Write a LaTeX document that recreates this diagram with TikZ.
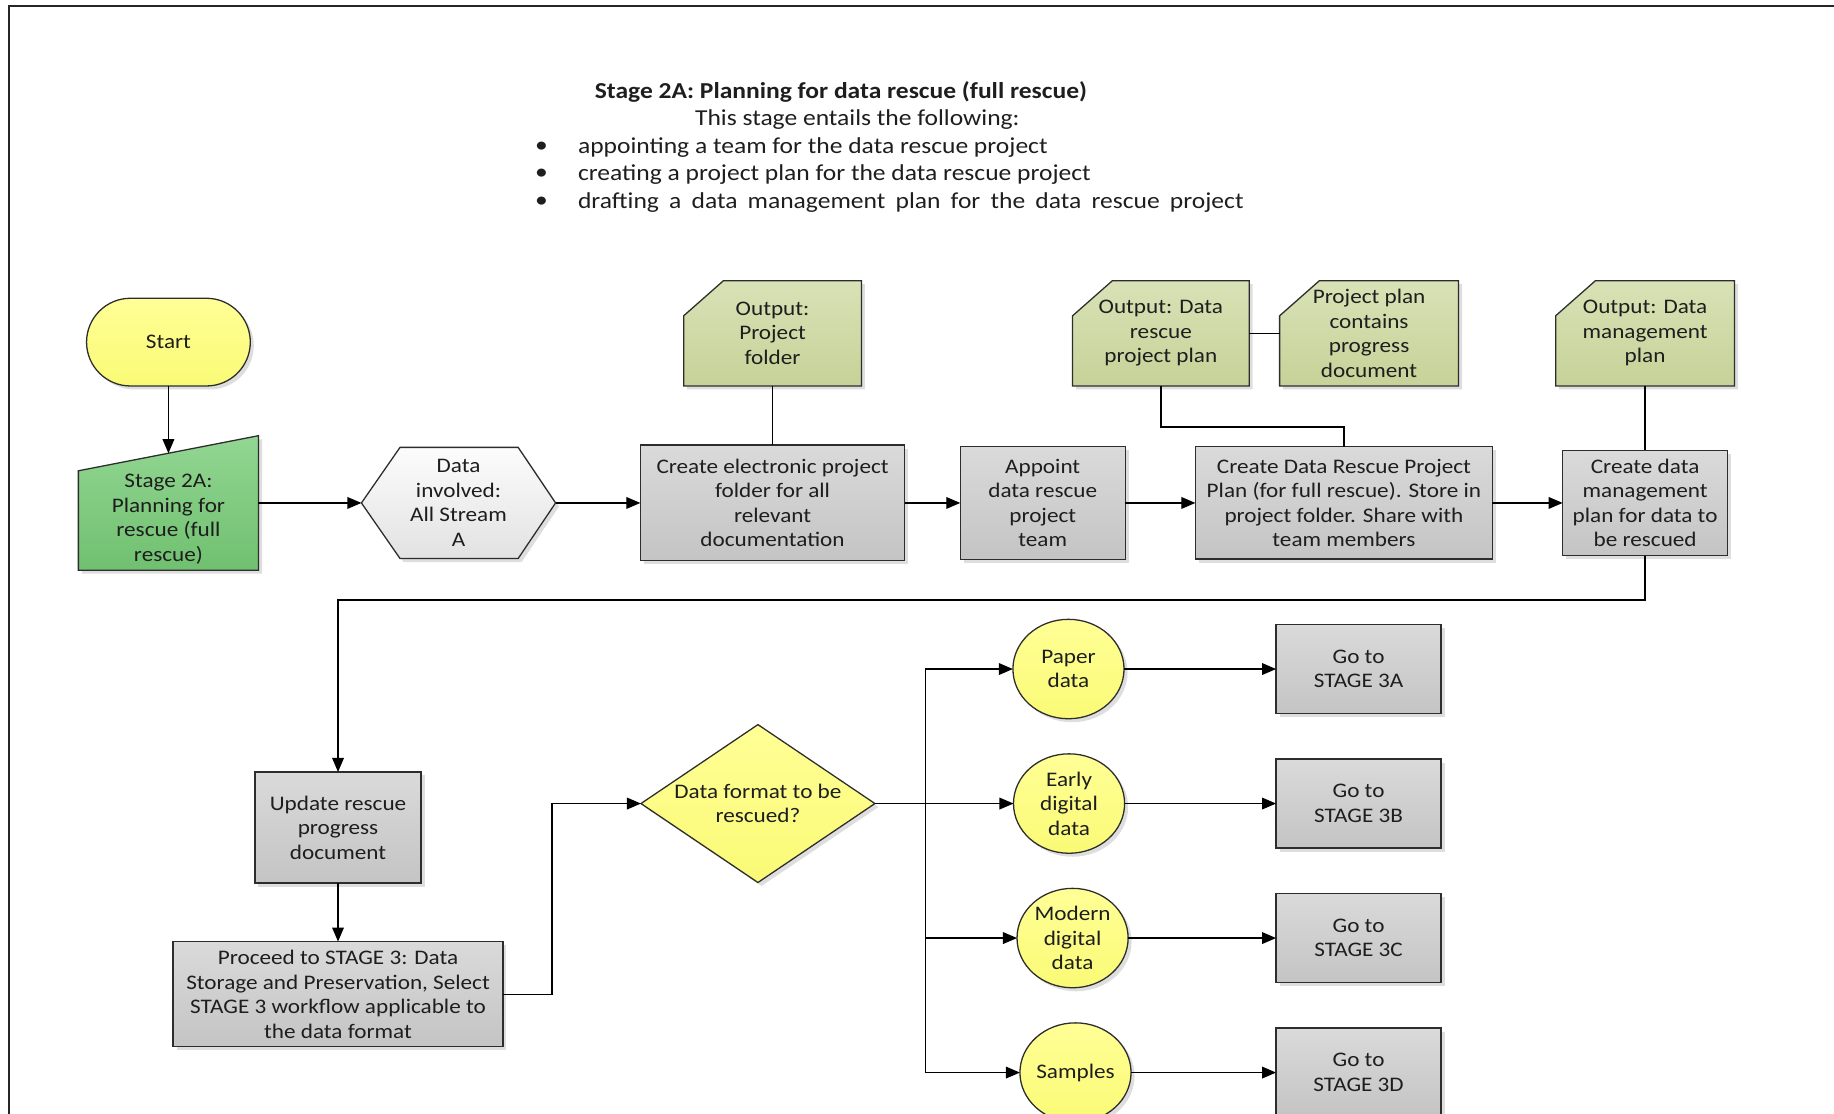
\documentclass[tikz,border=0pt]{standalone}
\usepackage{fontspec}
\setmainfont{Carlito}[FakeStretch=1.12]
\usetikzlibrary{arrows.meta,shadows,calc,shapes.geometric,backgrounds}

\definecolor{ink}{RGB}{30,30,30}
\definecolor{edge}{RGB}{45,45,45}
\definecolor{greytop}{RGB}{218,218,218}
\definecolor{greybot}{RGB}{196,196,196}
\definecolor{yeltop}{RGB}{255,255,150}
\definecolor{yelbot}{RGB}{250,250,118}
\definecolor{grntop}{RGB}{146,214,146}
\definecolor{grnbot}{RGB}{112,192,112}
\definecolor{olvtop}{RGB}{216,226,182}
\definecolor{olvbot}{RGB}{198,210,152}
\definecolor{hextop}{RGB}{252,252,252}
\definecolor{hexbot}{RGB}{226,226,226}

\newcommand\nodefont{\fontsize{17.7}{21}\selectfont}
\newcommand\hdfont{\fontsize{19.5}{23.5}\selectfont}

\begin{document}
\begin{tikzpicture}[x=1pt,y=-1pt,
  softshadow/.style={drop shadow={shadow xshift=3pt,shadow yshift=-3pt,fill=black!13,opacity=1}},
  txt/.style={align=center,font=\nodefont,text=ink,inner sep=0pt,outer sep=0pt},
  outline/.style={draw=edge,line width=1.1pt},
  greybox/.style={txt,outline,rectangle,top color=greytop,bottom color=greybot,softshadow},
  startbox/.style={txt,outline,rectangle,rounded corners=37.5pt,top color=yeltop,bottom color=yelbot,softshadow},
  oval/.style={txt,outline,ellipse,minimum width=95pt,minimum height=85pt,top color=yeltop,bottom color=yelbot,softshadow},
  gfill/.style={outline,top color=grntop,bottom color=grnbot,softshadow},
  ofill/.style={outline,top color=olvtop,bottom color=olvbot,softshadow},
  hfill/.style={outline,top color=hextop,bottom color=hexbot,softshadow},
  dfill/.style={outline,top color=yeltop,bottom color=yelbot,softshadow},
  arr/.style={draw=black,line width=1.1pt,-{Triangle[length=12pt,width=10pt]}},
  link/.style={draw=black,line width=1.1pt},
]
\useasboundingbox (0,0) rectangle (1568,952);
\clip (0,0) rectangle (1568,952);

% page frame
\draw[line width=1.8pt,black!85] (8,960) -- (8,5) -- (1570,5);

% heading
\node[font=\hdfont\bfseries,text=ink] (title) at (719,79) {Stage 2A: Planning for data rescue (full rescue)};
\node[font=\hdfont,text=ink] (intro) at (733,102) {This stage entails the following:};
\node[font=\hdfont,text=ink] (d1) at (463,126) {\textbullet};
\node[font=\hdfont,text=ink] (d2) at (463,149) {\textbullet};
\node[font=\hdfont,text=ink] (d3) at (463,173) {\textbullet};
\node[font=\hdfont,text=ink,anchor=west,inner sep=0pt] (b1) at (494,126) {appointing a team for the data rescue project};
\node[font=\hdfont,text=ink,anchor=west,inner sep=0pt] (b2) at (494,149) {creating a project plan for the data rescue project};
\node[font=\hdfont,text=ink,anchor=west,inner sep=0pt] (b3) at (494,173) {\makebox[569pt][s]{drafting a data management plan for the data rescue project}};

% top row
\node[startbox,minimum width=140pt,minimum height=75pt] (start) at (144,292.5) {Start};

\node[txt,minimum width=154pt,minimum height=115pt] (s2a) at (144,430) {};
\node[txt] (s2atext) at (144,444) {Stage 2A:\\Planning for\\rescue (full\\rescue)};
\coordinate (s2atop) at ($(s2a.north)+(0,15)$);

\node[txt,minimum width=166pt,minimum height=95pt] (hex) at (392,430) {Data\\involved:\\All Stream\\A};

\node[greybox,minimum width=226pt,minimum height=99pt] (ceb) at (660.5,430) {Create electronic project\\folder for all\\relevant\\documentation};
\node[greybox,minimum width=141pt,minimum height=97pt] (appoint) at (891.5,430) {Appoint\\data rescue\\project\\team};
\node[greybox,minimum width=254pt,minimum height=96pt] (drpp) at (1149,430) {Create Data Rescue Project\\Plan (for full rescue). Store in\\project folder. Share with\\team members};
\node[greybox,minimum width=141pt,minimum height=90pt] (dmp) at (1406.5,430) {Create data\\management\\plan for data to\\be rescued};

% outputs
\node[txt,minimum width=152pt,minimum height=90pt] (opf) at (660.5,285) {Output:\\Project\\folder};
\node[txt,minimum width=151pt,minimum height=90pt] (odrpp) at (992.5,285) {Output: Data\\rescue\\project plan};
\node[txt,minimum width=153pt,minimum height=90pt] (ppc) at (1170.5,285) {Project plan\\contains\\progress\\document};
\node[txt,minimum width=153pt,minimum height=90pt] (odmp) at (1406.5,285) {Output: Data\\management\\plan};

% lower part
\node[greybox,minimum width=142pt,minimum height=95pt] (upd) at (289,707.5) {Update rescue\\progress\\document};
\node[greybox,minimum width=282pt,minimum height=90pt] (proc) at (289,850) {Proceed to STAGE 3: Data\\Storage and Preservation, Select\\STAGE 3 workflow applicable to\\the data format};
\node[txt,minimum width=200pt,minimum height=135pt] (dia) at (648,687) {Data format to be\\rescued?};

\node[oval] (paper) at (913.5,572) {Paper\\data};
\node[oval] (early) at (914,687) {Early\\digital\\data};
\node[oval] (modern) at (917,802) {Modern\\digital\\data};
\node[oval] (samples) at (919.5,917) {Samples};

\node[greybox,minimum width=141pt,minimum height=76pt] (g3a) at (1161.5,572) {Go to\\STAGE 3A};
\node[greybox,minimum width=141pt,minimum height=76pt] (g3b) at (1161.5,687) {Go to\\STAGE 3B};
\node[greybox,minimum width=141pt,minimum height=76pt] (g3c) at (1161.5,802) {Go to\\STAGE 3C};
\node[greybox,minimum width=141pt,minimum height=76pt] (g3d) at (1161.5,917) {Go to\\STAGE 3D};

% outlined shapes behind their labels
\begin{scope}[on background layer]
  \path[gfill] ($(s2a.north west)+(0,30)$) -- (s2a.north east) -- (s2a.south east) -- (s2a.south west) -- cycle;
  \path[hfill] (hex.west) -- ($(hex.north west)+(33,0)$) -- ($(hex.north east)+(-32,0)$) -- (hex.east)
     -- ($(hex.south east)+(-32,0)$) -- ($(hex.south west)+(33,0)$) -- cycle;
  \foreach \o in {opf,odrpp,ppc,odmp}{
    \path[ofill] ($(\o.north west)+(0,30)$) -- ($(\o.north west)+(34,0)$) -- (\o.north east)
       -- (\o.south east) -- (\o.south west) -- cycle;
  }
  \path[dfill] (dia.west) -- (dia.north) -- (dia.east) -- (dia.south) -- cycle;
\end{scope}

% connectors, top row
\draw[arr] (start.south) -- (s2atop);
\draw[arr] (s2a.east) -- (hex.west);
\draw[arr] (hex.east) -- (ceb.west);
\draw[arr] (ceb.east) -- (appoint.west);
\draw[arr] (appoint.east) -- (drpp.west);
\draw[arr] (drpp.east) -- (dmp.west);

\draw[link] (opf.south) -- (ceb.north);
\draw[link] (odrpp.east) -- (ppc.west);
\draw[link] (odrpp.south) |- ($(drpp.north)+(0,-17)$) -- (drpp.north);
\draw[link] (odmp.south) -- (dmp.north);

% connectors, lower part
\draw[arr] (dmp.south) -- ++(0,38) -| (upd.north);
\draw[arr] (upd.south) -- (proc.north);
\draw[arr] (proc.east) -- ++(42,0) |- (dia.west);
\draw[arr] (dia.east) -- (early.west);

\coordinate (trunk) at (791,687);
\draw[link] (trunk |- paper.west) -- (trunk |- samples.west);
\draw[arr] (trunk |- paper.west) -- (paper.west);
\draw[arr] (trunk |- modern.west) -- (modern.west);
\draw[arr] (trunk |- samples.west) -- (samples.west);

\draw[arr] (paper.east) -- (g3a.west);
\draw[arr] (early.east) -- (g3b.west);
\draw[arr] (modern.east) -- (g3c.west);
\draw[arr] (samples.east) -- (g3d.west);
\end{tikzpicture}
\end{document}
